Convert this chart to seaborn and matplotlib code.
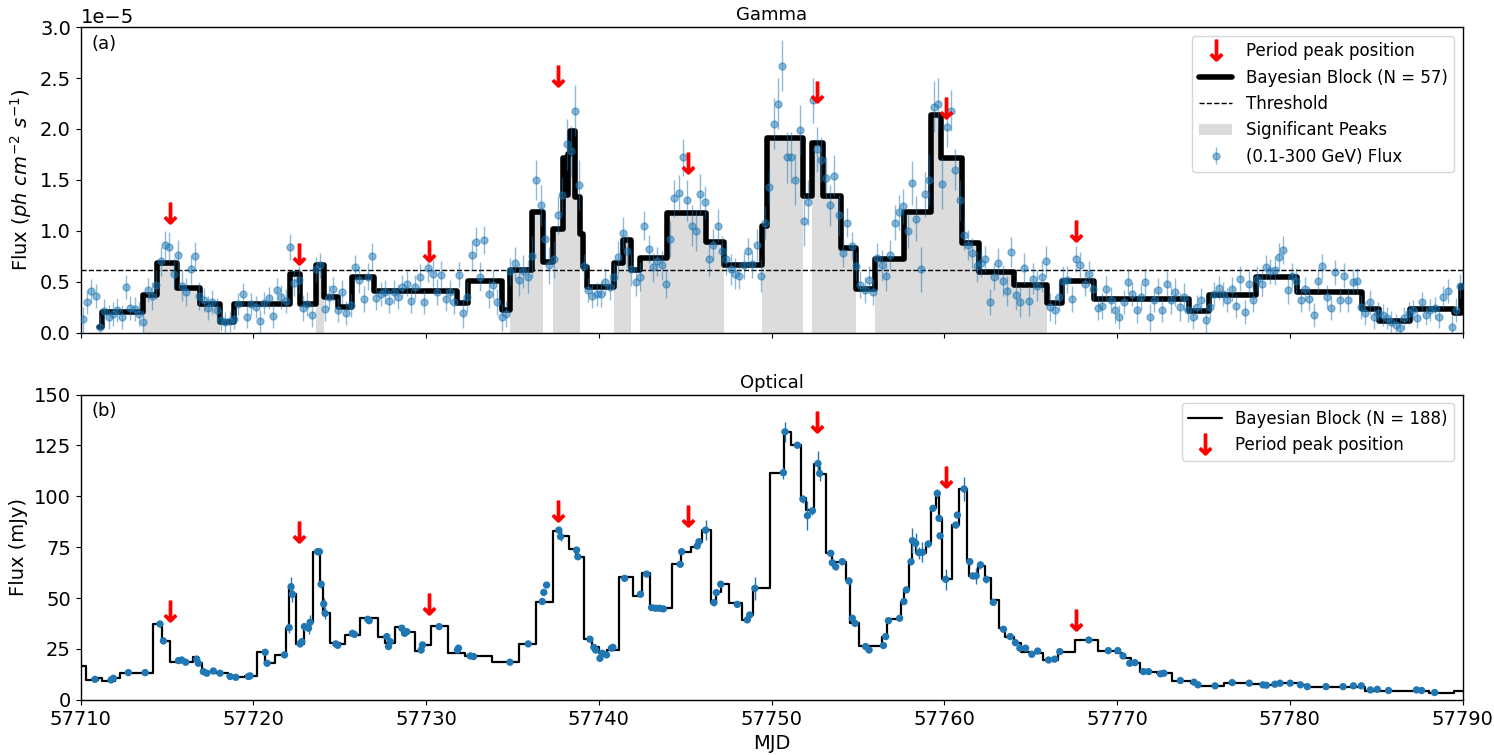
import numpy as np
import matplotlib
matplotlib.use("Agg")
import matplotlib.pyplot as plt
import seaborn as sns
from matplotlib.lines import Line2D
from matplotlib.patches import Patch

# ---------------- DATA ----------------
GAMMA_UNIT = 1e-5
gamma_first_day = 57710
gamma_bin_offsets = [0.125, 0.375, 0.625, 0.875]
# gamma flux (units of 1e-5 ph cm^-2 s^-1), one row per day, 4 bins per day
gamma_flux_by_day = [
    [0.13, 0.30, 0.41, 0.36], [0.05, 0.21, 0.15, 0.18], [0.22, 0.15, 0.45, 0.24], [0.23, 0.18, 0.10, 0.42],
    [0.36, 0.47, 0.70, 0.86], [0.84, 0.58, 0.76, 0.46], [0.40, 0.62, 0.75, 0.36], [0.32, 0.24, 0.30, 0.22],
    [0.12, 0.10, 0.11, 0.13], [0.28, 0.38, 0.15, 0.28], [0.25, 0.11, 0.29, 0.34], [0.16, 0.42, 0.35, 0.31],
    [0.84, 0.49, 0.52, 0.24], [0.28, 0.17, 0.62, 0.66], [0.23, 0.35, 0.43, 0.22], [0.40, 0.19, 0.27, 0.64],
    [0.52, 0.33, 0.55, 0.75], [0.34, 0.38, 0.40, 0.31], [0.40, 0.35, 0.45, 0.48], [0.31, 0.45, 0.55, 0.30],
    [0.63, 0.58, 0.40, 0.57], [0.33, 0.40, 0.30, 0.57], [0.19, 0.35, 0.76, 0.89], [0.55, 0.91, 0.38, 0.47],
    [0.30, 0.15, 0.18, 0.60], [0.68, 0.52, 0.60, 0.55], [0.75, 1.50, 1.25, 0.92], [0.66, 0.72, 1.15, 1.35],
    [1.85, 1.78, 2.18, 1.45], [0.65, 0.42, 0.36, 0.38], [0.38, 0.50, 0.45, 0.55], [0.74, 0.98, 0.80, 0.62],
    [0.50, 0.55, 1.05, 0.82], [0.64, 0.70, 0.66, 0.48], [0.92, 1.32, 1.37, 1.72], [1.30, 1.05, 1.00, 1.36],
    [1.28, 0.72, 0.86, 1.05], [0.80, 0.72, 0.62, 0.58], [0.56, 0.66, 0.80, 0.67], [0.86, 0.56, 1.08, 1.43],
    [2.05, 2.25, 2.62, 1.72], [1.72, 1.50, 1.99, 1.10], [1.28, 2.28, 1.80, 1.70], [1.52, 1.25, 1.54, 1.15],
    [0.78, 1.08, 0.85, 0.65], [0.47, 0.42, 0.52, 0.40], [0.73, 0.66, 0.56, 0.76], [1.08, 1.18, 1.24, 1.00],
    [1.47, 1.12, 0.62, 1.36], [1.50, 2.22, 2.25, 1.46], [2.02, 2.18, 1.60, 1.30], [0.96, 0.86, 0.78, 0.65],
    [0.68, 0.72, 0.30, 0.55], [0.68, 0.51, 0.41, 0.79], [0.37, 0.30, 0.63, 0.31], [0.53, 0.46, 0.55, 0.70],
    [0.25, 0.22, 0.35, 0.51], [0.52, 0.33, 0.72, 0.66], [0.48, 0.58, 0.43, 0.24], [0.26, 0.43, 0.32, 0.22],
    [0.15, 0.30, 0.50, 0.38], [0.22, 0.35, 0.50, 0.15], [0.32, 0.42, 0.22, 0.48], [0.32, 0.40, 0.25, 0.35],
    [0.22, 0.15, 0.25, 0.32], [0.12, 0.25, 0.38, 0.44], [0.38, 0.32, 0.43, 0.26], [0.53, 0.20, 0.48, 0.32],
    [0.53, 0.48, 0.64, 0.60], [0.61, 0.74, 0.81, 0.42], [0.56, 0.51, 0.32, 0.43], [0.33, 0.17, 0.51, 0.65],
    [0.35, 0.24, 0.59, 0.32], [0.56, 0.32, 0.50, 0.51], [0.25, 0.19, 0.30, 0.15], [0.19, 0.17, 0.14, 0.10],
    [0.07, 0.04, 0.14, 0.19], [0.22, 0.14, 0.30, 0.17], [0.22, 0.24, 0.15, 0.35], [0.41, 0.05, 0.22, 0.46],
]
# typical error of each day's bins (units of 1e-5)
gamma_err_by_day = [
    0.12, 0.12, 0.12, 0.12, 0.14, 0.15, 0.14, 0.12, 0.10, 0.11,
    0.11, 0.12, 0.13, 0.12, 0.12, 0.12, 0.13, 0.12, 0.12, 0.12,
    0.13, 0.12, 0.15, 0.14, 0.13, 0.16, 0.20, 0.18, 0.25, 0.12,
    0.13, 0.16, 0.14, 0.14, 0.18, 0.20, 0.16, 0.15, 0.13, 0.16,
    0.25, 0.25, 0.22, 0.20, 0.14, 0.13, 0.15, 0.17, 0.22, 0.25,
    0.20, 0.15, 0.13, 0.15, 0.15, 0.15, 0.14, 0.13, 0.12, 0.13,
    0.12, 0.13, 0.12, 0.14, 0.12, 0.12, 0.12, 0.12, 0.12, 0.14,
    0.12, 0.12, 0.12, 0.12, 0.12, 0.11, 0.11, 0.10, 0.11, 0.12,
]

# gamma Bayesian blocks: block start times and levels (1e-5), final edge
gamma_block_starts = [
    57711.05, 57711.25, 57713.60, 57714.40, 57715.55, 57716.90, 57718.07, 57718.90, 57722.12, 57722.70,
    57723.60, 57724.10, 57724.90, 57725.70, 57727.00, 57731.77, 57732.45, 57734.40, 57734.88, 57736.10,
    57736.79, 57737.37, 57737.95, 57738.10, 57738.20, 57738.30, 57738.60, 57738.90, 57739.10, 57739.30,
    57740.90, 57741.37, 57741.86, 57742.40, 57743.95, 57746.18, 57747.24, 57749.46, 57749.75, 57751.83,
    57752.35, 57752.99, 57754.03, 57754.86, 57755.98, 57757.66, 57759.20, 57759.78, 57761.03, 57762.00,
    57764.03, 57765.96, 57766.83, 57768.67, 57774.17, 57775.33, 57778.06, 57780.44, 57784.20, 57785.17,
    57786.96, 57789.50, 57789.90,
]
gamma_block_levels = [
    0.05, 0.20, 0.366, 0.68, 0.44, 0.28, 0.10, 0.285, 0.58, 0.28,
    0.66, 0.35, 0.25, 0.55, 0.405, 0.29, 0.51, 0.22, 0.61, 1.18,
    0.69, 1.02, 1.71, 1.35, 1.75, 1.98, 1.33, 0.97, 0.645, 0.45,
    0.68, 0.91, 0.61, 0.735, 1.17, 0.89, 0.66, 1.05, 1.91, 1.34,
    1.86, 1.34, 0.83, 0.43, 0.726, 1.18, 2.14, 1.71, 0.88, 0.595,
    0.47, 0.29, 0.51, 0.33, 0.21, 0.366, 0.55, 0.40, 0.23, 0.115,
    0.235, 0.19, 0.46,
]
gamma_block_end = 57790.0
gamma_threshold = 0.61
significant_peaks = [
    (57713.60, 57718.07), (57723.60, 57724.10), (57734.88, 57736.79), (57737.37, 57738.90),
    (57740.90, 57741.86), (57742.40, 57747.24), (57749.46, 57751.83), (57752.35, 57754.86),
    (57755.98, 57765.96),
]

period_peak_mjd = [57715.17, 57722.66, 57730.15, 57737.64, 57745.13, 57752.62, 57760.11, 57767.60]
gamma_arrow_level = [1.17, 0.77, 0.80, 2.52, 1.67, 2.36, 2.21, 1.00]
optical_arrow_level = [43.8, 82.3, 47.1, 92.9, 90.5, 136.3, 109.3, 39.1]

# optical light curve (mJy)
opt_mjd = [
    57710.83, 57711.76, 57711.89, 57712.76, 57713.73, 57714.59, 57714.79, 57715.66, 57715.85, 57716.08,
    57716.72, 57716.81, 57717.10, 57717.30, 57717.68, 57718.07, 57718.65, 57718.98, 57719.71, 57719.81,
    57720.68, 57720.79, 57721.80, 57722.07, 57722.18, 57722.26, 57722.70, 57722.80, 57722.95, 57723.19,
    57723.28, 57723.71, 57723.82, 57723.92, 57724.07, 57724.15, 57724.77, 57724.88, 57725.73, 57725.85,
    57726.62, 57726.70, 57727.72, 57727.82, 57727.92, 57728.59, 57728.75, 57728.88, 57729.71, 57729.79,
    57730.75, 57731.81, 57731.87, 57732.55, 57732.74, 57734.85, 57735.91, 57736.72, 57736.81, 57736.97,
    57737.68, 57737.78, 57738.71, 57738.78, 57739.48, 57739.71, 57739.81, 57740.06, 57740.19, 57740.44,
    57740.73, 57740.81, 57741.49, 57742.41, 57742.76, 57743.05, 57743.28, 57743.51, 57743.73, 57744.71,
    57744.79, 57745.69, 57745.79, 57746.18, 57746.66, 57746.80, 57747.05, 57748.01, 57748.59, 57748.73,
    57749.03, 57750.68, 57750.77, 57751.49, 57751.81, 57752.07, 57752.36, 57752.68, 57752.78, 57753.42,
    57753.51, 57753.71, 57754.09, 57754.48, 57754.67, 57754.83, 57755.44, 57755.64, 57756.47, 57756.60,
    57756.76, 57757.41, 57757.66, 57757.80, 57758.07, 57758.15, 57758.34, 57758.53, 57758.73, 57759.07,
    57759.34, 57759.59, 57759.69, 57759.75, 57760.08, 57760.66, 57760.75, 57761.14, 57761.47, 57761.64,
    57761.84, 57762.09, 57762.43, 57762.83, 57763.42, 57763.81, 57764.11, 57764.37, 57764.70, 57765.06,
    57765.40, 57766.03, 57766.38, 57766.68, 57768.36, 57769.49, 57770.04, 57770.34, 57770.73, 57771.03,
    57771.52, 57771.82, 57772.51, 57772.71, 57773.66, 57774.45, 57774.68, 57775.67, 57776.66, 57777.65,
    57778.44, 57778.64, 57779.13, 57779.43, 57780.02, 57780.61, 57781.01, 57782.09, 57783.08, 57783.68,
    57784.13, 57784.66, 57785.06, 57785.71, 57787.33, 57787.63, 57788.38,
]
opt_flux = [
    10.1, 9.8, 10.6, 13.4, 13.4, 37.3, 29.0, 19.3, 19.6, 18.5,
    20.0, 18.0, 13.9, 13.1, 14.2, 13.1, 11.5, 11.1, 11.5, 11.8,
    23.4, 18.0, 22.1, 35.5, 55.6, 51.9, 27.5, 28.6, 36.0, 35.2,
    38.1, 72.8, 72.8, 56.8, 47.1, 42.5, 27.5, 26.8, 32.7, 32.2,
    39.6, 38.9, 31.1, 26.2, 28.6, 35.2, 32.7, 33.5, 24.5, 27.0,
    36.0, 24.5, 25.4, 21.6, 21.3, 18.5, 27.5, 48.3, 52.8, 56.4,
    83.4, 80.2, 73.6, 70.3, 29.8, 25.8, 24.5, 20.4, 22.9, 22.1,
    25.4, 25.8, 59.7, 51.9, 61.8, 45.3, 45.0, 45.0, 44.7, 66.6,
    72.8, 75.6, 77.7, 83.4, 47.8, 52.7, 56.8, 46.9, 39.3, 41.7,
    54.8, 111.6, 131.7, 125.1, 98.6, 90.5, 92.9, 116.1, 111.2, 72.0,
    67.4, 65.4, 67.9, 58.4, 40.1, 37.6, 26.2, 24.5, 26.7, 31.1,
    38.9, 40.1, 48.3, 54.0, 67.9, 78.2, 76.9, 72.3, 72.5, 76.6,
    94.1, 101.4, 89.2, 80.6, 59.2, 85.9, 90.8, 103.6, 67.9, 60.9,
    60.9, 66.3, 59.2, 47.9, 34.7, 31.1, 28.1, 25.4, 25.4, 22.4,
    24.0, 19.6, 20.0, 23.7, 29.4, 24.2, 24.2, 21.6, 18.0, 18.3,
    13.9, 13.9, 12.8, 13.1, 9.5, 8.7, 7.4, 6.9, 8.5, 8.2,
    7.4, 7.2, 7.7, 8.2, 8.2, 7.4, 6.5, 6.5, 6.5, 6.9,
    6.9, 4.9, 5.2, 4.6, 4.9, 4.6, 3.6,
]
opt_err = [
    1.0, 1.0, 1.0, 1.0, 1.0, 1.5, 1.5, 1.0, 1.0, 1.0,
    1.0, 1.0, 1.0, 1.0, 1.0, 1.0, 1.0, 1.0, 1.0, 1.0,
    1.0, 1.0, 1.0, 2.5, 5.0, 4.0, 1.5, 1.5, 2.0, 3.0,
    3.5, 1.5, 1.5, 2.0, 3.0, 3.0, 1.0, 1.0, 1.0, 1.0,
    1.0, 1.0, 1.0, 1.0, 1.0, 1.5, 1.5, 1.0, 1.0, 1.0,
    1.0, 1.0, 1.0, 1.0, 1.0, 1.0, 1.0, 1.0, 1.0, 1.0,
    1.0, 2.0, 1.0, 1.0, 1.0, 1.0, 1.0, 1.0, 1.0, 1.0,
    1.0, 1.0, 1.0, 1.0, 1.0, 1.0, 1.0, 1.0, 1.0, 1.0,
    1.0, 1.0, 1.0, 5.0, 1.5, 1.5, 1.0, 1.0, 1.0, 1.0,
    5.5, 3.0, 5.0, 1.5, 2.0, 7.0, 2.0, 6.0, 3.5, 1.5,
    1.5, 1.5, 1.5, 2.0, 1.5, 1.5, 1.0, 1.0, 1.0, 1.0,
    1.0, 1.0, 1.0, 1.0, 1.5, 6.0, 5.0, 3.0, 5.0, 1.5,
    1.5, 2.0, 1.5, 1.5, 5.0, 1.5, 1.5, 6.0, 1.5, 1.5,
    4.0, 2.0, 2.0, 1.5, 1.0, 1.0, 1.0, 1.0, 1.0, 1.0,
    1.0, 1.0, 1.0, 1.0, 1.0, 1.0, 1.0, 1.0, 1.0, 1.0,
    1.0, 1.0, 1.0, 1.0, 1.0, 1.0, 1.0, 1.0, 1.0, 1.0,
    1.0, 1.0, 1.0, 1.0, 1.0, 1.0, 1.0, 1.0, 1.0, 1.0,
    0.8, 0.8, 0.8, 0.8, 0.8, 0.8, 0.8,
]

# optical Bayesian blocks
opt_block_starts = [
    57710.00, 57710.29, 57711.02, 57711.25, 57711.99, 57712.28, 57714.21, 57714.73, 57715.17, 57716.49,
    57716.81, 57717.05, 57717.59, 57718.55, 57719.52, 57720.19, 57720.68, 57721.25, 57721.87, 57722.07,
    57722.22, 57722.45, 57722.90, 57723.19, 57723.47, 57723.86, 57724.05, 57724.44, 57725.02, 57725.31,
    57726.18, 57727.24, 57727.63, 57728.20, 57728.59, 57729.36, 57729.69, 57730.27, 57731.24, 57732.26,
    57733.80, 57735.37, 57736.37, 57737.34, 57737.78, 57738.26, 57738.65, 57739.13, 57739.61, 57740.00,
    57740.48, 57741.16, 57741.97, 57742.51, 57742.93, 57744.21, 57744.73, 57745.31, 57745.69, 57745.98,
    57746.47, 57746.76, 57747.05, 57747.53, 57748.30, 57748.65, 57748.92, 57749.88, 57750.71, 57751.10,
    57751.68, 57751.97, 57752.45, 57752.74, 57753.13, 57753.47, 57754.29, 57754.54, 57755.06, 57756.41,
    57756.70, 57757.47, 57757.66, 57757.95, 57758.15, 57758.34, 57758.92, 57759.25, 57759.50, 57759.69,
    57759.88, 57760.42, 57760.85, 57761.30, 57761.44, 57761.94, 57762.33, 57762.67, 57763.18, 57763.52,
    57764.01, 57764.41, 57765.10, 57765.69, 57766.58, 57767.57, 57768.91, 57769.94, 57770.30, 57770.83,
    57771.32, 57772.31, 57773.20, 57774.29, 57774.68, 57776.17, 57777.65, 57778.44, 57779.13, 57780.61,
    57781.01, 57784.37, 57788.08, 57789.51,
]
opt_block_levels = [
    16.8, 9.8, 10.8, 9.3, 10.8, 13.1, 37.3, 29.0, 18.5, 20.9,
    18.0, 13.9, 13.1, 11.3, 11.8, 23.4, 18.0, 22.1, 35.5, 55.6,
    51.9, 27.5, 36.0, 38.4, 72.8, 57.3, 42.9, 27.8, 27.3, 31.9,
    40.1, 31.1, 28.1, 36.0, 33.2, 24.0, 26.8, 36.3, 23.2, 21.6,
    18.5, 27.5, 48.3, 83.1, 80.6, 74.1, 70.3, 29.8, 26.2, 22.9,
    24.5, 60.2, 51.2, 62.2, 45.0, 66.6, 72.8, 75.2, 77.7, 83.4,
    47.4, 53.2, 56.8, 47.4, 39.3, 41.7, 54.8, 111.6, 131.7, 125.1,
    99.0, 93.2, 116.1, 111.2, 72.0, 67.9, 58.9, 37.6, 26.5, 31.1,
    39.6, 48.3, 54.0, 67.9, 78.5, 72.3, 76.6, 94.1, 101.4, 89.2,
    59.2, 85.9, 103.6, 67.9, 60.9, 65.8, 59.7, 49.1, 35.2, 31.1,
    27.8, 23.7, 23.0, 19.6, 23.4, 29.4, 24.2, 22.9, 20.5, 18.3,
    13.9, 13.4, 9.5, 8.2, 6.9, 8.5, 7.8, 7.4, 8.2, 7.2,
    6.2, 4.6, 3.3, 4.6,
]
opt_block_end = 57790.0

# ---------------- STYLE ----------------
sns.set_theme(style="ticks", context="notebook", rc={
    "axes.edgecolor": "black", "axes.linewidth": 1.0,
    "xtick.major.size": 3.5, "ytick.major.size": 3.5,
    "xtick.major.width": 0.8, "ytick.major.width": 0.8,
    "xtick.labelsize": 14, "ytick.labelsize": 14,
    "axes.labelsize": 14, "axes.titlesize": 13, "legend.fontsize": 12,
    "xtick.color": "black", "ytick.color": "black",
    "text.color": "black", "axes.labelcolor": "black",
})
plt.rcParams["font.family"] = ["DejaVu Sans"]

BLUE = "#1f77b4"
GREY = "#dcdcdc"

fig, (ax1, ax2) = plt.subplots(2, 1, figsize=(14.94, 7.55), dpi=100, sharex=True)
fig.subplots_adjust(left=0.054, right=0.979, top=0.964, bottom=0.073, hspace=0.203)

# ---------------- GAMMA PANEL ----------------
g_flux = np.asarray(gamma_flux_by_day).ravel()
g_time = (gamma_first_day + np.arange(len(gamma_flux_by_day))[:, None]
          + np.asarray(gamma_bin_offsets)[None, :]).ravel()
g_err = np.repeat(gamma_err_by_day, len(gamma_bin_offsets))

gb_x = np.asarray(gamma_block_starts + [gamma_block_end])
gb_y = np.asarray(gamma_block_levels + [gamma_block_levels[-1]])

for s, e in significant_peaks:
    sel = (gb_x[:-1] >= s - 1e-6) & (gb_x[:-1] < e - 1e-6)
    xs = list(gb_x[:-1][sel]) + [e]
    ys = list(gb_y[:-1][sel])
    ys = ys + [ys[-1]]
    ax1.fill_between(xs, 0, np.asarray(ys) * GAMMA_UNIT, step="post",
                     color=GREY, lw=0, zorder=1)

ax1.axhline(gamma_threshold * GAMMA_UNIT, color="black", ls="--", lw=1, zorder=2)
ax1.step(gb_x, gb_y * GAMMA_UNIT, where="post", color="black", lw=4, zorder=2)
eb = ax1.errorbar(g_time, g_flux * GAMMA_UNIT, yerr=g_err * GAMMA_UNIT, fmt="o",
                  color=BLUE, ms=5, alpha=0.5, elinewidth=1, zorder=3)
ax1.plot(period_peak_mjd, np.asarray(gamma_arrow_level) * GAMMA_UNIT, ls="none",
         marker=r"$\downarrow$", color="red", ms=15, zorder=5)

ax1.set_ylim(0, 3e-5)
ax1.ticklabel_format(axis="y", style="sci", scilimits=(0, 0))
ax1.set_ylabel(r"Flux ($ph\ cm^{-2}\ s^{-1}$)")
ax1.set_title("Gamma", pad=5)
ax1.text(0.008, 0.945, "(a)", transform=ax1.transAxes, fontsize=13, va="center")

h_arrow = Line2D([], [], ls="none", marker=r"$\downarrow$", color="red", ms=15)
h_block = Line2D([], [], color="black", lw=4)
h_thr = Line2D([], [], color="black", ls="--", lw=1)
h_peak = Patch(facecolor=GREY, edgecolor="none")
ax1.legend([h_arrow, h_block, h_thr, h_peak, eb],
           ["Period peak position", "Bayesian Block (N = 57)", "Threshold",
            "Significant Peaks", "(0.1-300 GeV) Flux"],
           loc="upper right", framealpha=0.8)

# ---------------- OPTICAL PANEL ----------------
ob_x = np.asarray(opt_block_starts + [opt_block_end])
ob_y = np.asarray(opt_block_levels + [opt_block_levels[-1]])
ax2.step(ob_x, ob_y, where="post", color="black", lw=1.6, zorder=2)
ax2.errorbar(opt_mjd, opt_flux, yerr=opt_err, fmt="none", ecolor=BLUE,
             elinewidth=1, zorder=3)
sns.scatterplot(x=opt_mjd, y=opt_flux, ax=ax2, color=BLUE, s=28,
                edgecolor="none", zorder=4, legend=False)
ax2.plot(period_peak_mjd, optical_arrow_level, ls="none", marker=r"$\downarrow$",
         color="red", ms=15, zorder=5)

ax2.set_ylim(0, 150)
ax2.set_yticks([0, 25, 50, 75, 100, 125, 150])
ax2.set_xlim(57710, 57790)
ax2.set_xticks(np.arange(57710, 57791, 10))
ax2.ticklabel_format(axis="x", useOffset=False, style="plain")
ax2.set_xlabel("MJD")
ax2.set_ylabel("Flux (mJy)")
ax2.set_title("Optical", pad=5)
ax2.text(0.008, 0.945, "(b)", transform=ax2.transAxes, fontsize=13, va="center")

h_oblock = Line2D([], [], color="black", lw=1.6)
ax2.legend([h_oblock, h_arrow], ["Bayesian Block (N = 188)", "Period peak position"],
           loc="upper right", framealpha=0.8)

fig.savefig("out.png", dpi=100)
